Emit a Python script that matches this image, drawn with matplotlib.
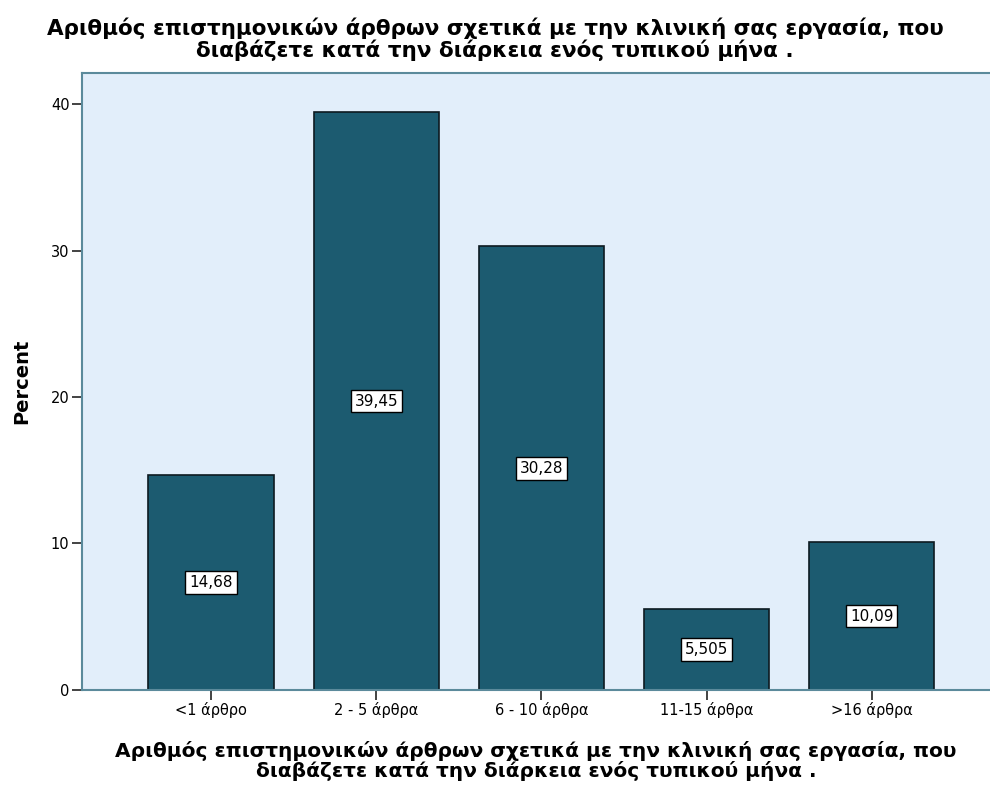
import matplotlib.pyplot as plt
import numpy as np

categories = ['<1 άρθρο', '2 - 5 άρθρα', '6 - 10 άρθρα', '11-15 άρθρα', '>16 άρθρα']
percents = [14.68, 39.45, 30.28, 5.505, 10.09]
y_ticks = [0, 10, 20, 30, 40]

title_text = ('Αριθμός επιστημονικών άρθρων σχετικά με την κλινική σας εργασία, που\n'
              'διαβάζετε κατά την διάρκεια ενός τυπικού μήνα .')

plt.rcParams['font.family'] = ['DejaVu Sans']

bar_color = '#1c5b70'
frame_color = '#5b8a9b'

fig = plt.figure(figsize=(9.9, 7.87), dpi=100)
ax = fig.add_axes([0.0828, 0.1233, 0.9172, 0.7839])
ax.set_facecolor('#e2eefa')

x = np.arange(len(categories))
ax.bar(x, percents, width=0.757, color=bar_color, edgecolor='#0d1a20', linewidth=1.2, zorder=2)

# value boxes sit halfway up each bar, decimal comma
for xi, v in zip(x, percents):
    label = f'{v:.4g}'.replace('.', ',')
    ax.text(xi, v / 2, label, ha='center', va='center', fontsize=11, zorder=3,
            bbox=dict(boxstyle='square,pad=0.25', facecolor='white', edgecolor='black', linewidth=1))

ax.set_xlim(-0.781, 4.716)
ax.set_ylim(0, 42.12)
ax.set_xticks(x)
ax.set_xticklabels(categories, fontsize=10.5)
ax.set_yticks(y_ticks)
ax.tick_params(axis='both', length=7.5, width=1.2, color='#222222', labelsize=10.5, pad=1.5)

for side in ['left', 'bottom', 'top']:
    ax.spines[side].set_color(frame_color)
    ax.spines[side].set_linewidth(1.5)
ax.spines['right'].set_visible(False)

ax.set_ylabel('Percent', fontsize=14, fontweight='bold', labelpad=14)
ax.set_xlabel(title_text, fontsize=14.5, fontweight='bold', linespacing=1.05, labelpad=16)

fig.text(0.5, 0.978, title_text, ha='center', va='top', fontsize=15.5,
         fontweight='bold', linespacing=1.05)

fig.savefig('out.png', dpi=100)
